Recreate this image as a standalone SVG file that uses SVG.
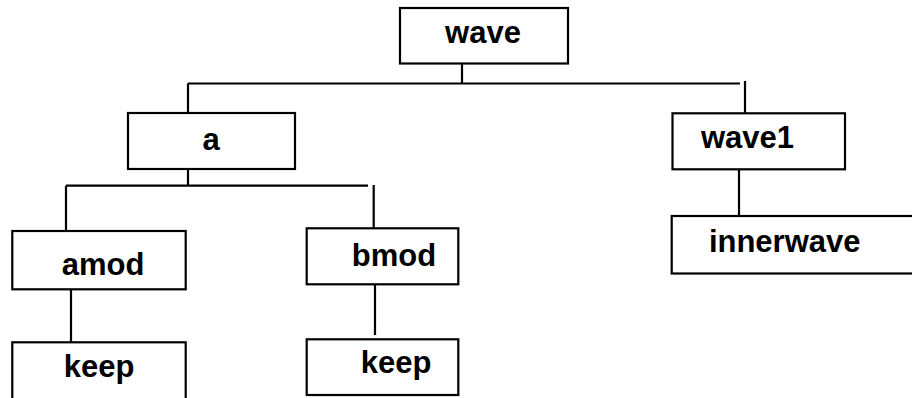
<svg xmlns="http://www.w3.org/2000/svg" width="912" height="398" viewBox="0 0 912 398">
<style>
.box{fill:#fff;stroke:#000;stroke-width:2.2}
.lbl{font-family:"Liberation Sans",Arial,sans-serif;font-weight:bold;font-size:31px;fill:#000;text-anchor:middle}
.ln{stroke:#000;stroke-width:2.2;fill:none}
</style>
<rect width="912" height="398" fill="#fff"/>
<g id="connectors">
<path class="ln" d="M462,63 V83.5 M188,83.5 H740 M188,83.5 V113 M745,81 V113"/>
<path class="ln" d="M188,169 V185.7 M66,185.7 H368 M66,185.7 V231 M373.7,185 V228"/>
<path class="ln" d="M71,289 V342 M375,284 V335 M739,169 V216"/>
</g>
<g id="wave"><rect class="box" x="400" y="8" width="168" height="55.5"/><text class="lbl" x="483" y="43.3">wave</text></g>
<g id="a"><rect class="box" x="128" y="113" width="167" height="56"/><text class="lbl" x="211" y="150">a</text></g>
<g id="wave1"><rect class="box" x="672.5" y="113.3" width="172.5" height="56"/><text class="lbl" x="747.5" y="148.3">wave1</text></g>
<g id="amod"><rect class="box" x="12.3" y="231" width="173.4" height="58.3"/><text class="lbl" x="103" y="275">amod</text></g>
<g id="bmod"><rect class="box" x="306.7" y="228.3" width="151.6" height="56"/><text class="lbl" x="394" y="266">bmod</text></g>
<g id="innerwave"><rect class="box" x="671.7" y="216" width="260" height="57.5"/><text class="lbl" x="784.7" y="252">innerwave</text></g>
<g id="keep1"><rect class="box" x="12.3" y="342.3" width="173.4" height="70"/><text class="lbl" x="99" y="377">keep</text></g>
<g id="keep2"><rect class="box" x="306.7" y="339.3" width="151.6" height="55.7"/><text class="lbl" x="396" y="373.3">keep</text></g>
</svg>
